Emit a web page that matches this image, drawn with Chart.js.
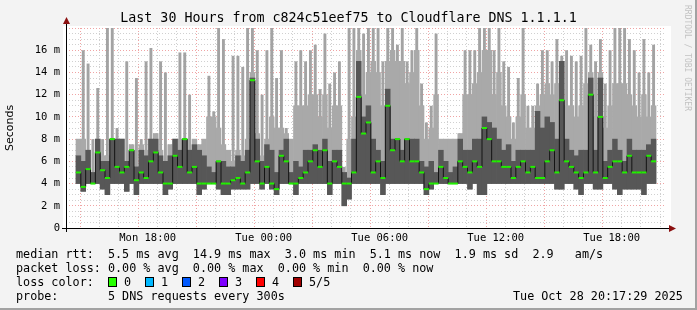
<!DOCTYPE html>
<html>
<head>
<meta charset="utf-8">
<script src="https://cdn.jsdelivr.net/npm/chart.js@4.4.0/dist/chart.umd.min.js"></script>
<style>
  html, body { margin: 0; padding: 0; }
  body { width: 697px; height: 310px; background: #f3f3f3; position: relative; overflow: hidden;
         font-family: "DejaVu Sans Mono", monospace; }
  #frame { position: absolute; left: 0; top: 0; width: 695px; height: 308px;
           border-right: 2px solid #a2a2a2; border-bottom: 2px solid #a2a2a2; }
  canvas { position: absolute; left: 0; top: 0; }
  .t { position: absolute; white-space: pre; color: #000; }
  #title { left: 0; top: 10px; width: 697px; text-align: center; font-size: 13.3px; line-height: 16px; }
  #legend .t { font-size: 11.75px; line-height: 14px; }
  .sq { position: absolute; width: 7px; height: 8px; border: 1px solid #000; }
  #mark { position: absolute; left: 683px; top: 5px; writing-mode: vertical-rl; font-size: 8px;
          color: #c2c2c2; white-space: pre; }
</style>
</head>
<body>
<div id="frame"></div>
<canvas id="chart" width="697" height="310"></canvas>
<div class="t" id="title">Last 30 Hours from c824c51eef75 to Cloudflare DNS 1.1.1.1</div>
<div id="mark">RRDTOOL / TOBI OETIKER</div>
<div id="legend">
  <div class="t" style="left:16px;top:247px">median rtt:  5.5 ms avg  14.9 ms max  3.0 ms min  5.1 ms now  1.9 ms sd  2.9   am/s</div>
  <div class="t" style="left:16px;top:261px">packet loss: 0.00 % avg  0.00 % max  0.00 % min  0.00 % now</div>
  <div class="t" style="left:16px;top:275px">loss color:</div>
  <div id="lossRow"></div>
  <div class="t" style="left:16px;top:289px">probe:       5 DNS requests every 300s</div>
  <div class="t" style="left:513px;top:289px">Tue Oct 28 20:17:29 2025</div>
</div>
<script>
// -------------------- Data (15 minute bins) --------------------
const startHour = 14 + 17 / 60 + 29 / 3600; // Mon 14:17:29
const stepHours = 0.25;

// lowest ping per bin (ms)
const lo = [
  4, 3.3, 4, 4, 4, 3.5, 3, 4, 4, 4, 3.3, 4, 3, 4, 4, 4, 4, 4, 3, 3.5,
  4, 4, 4, 4, 4, 3, 3.5, 4, 4, 3.5, 3, 3, 3.5, 3.5, 3.5, 3.5, 4, 4, 3.5, 4,
  3.5, 3, 4, 4, 4, 3, 4, 4, 4, 4, 4, 4, 3, 4, 4, 2, 2.6, 4, 4, 4,
  4, 4, 4, 3, 4, 4, 4, 4, 4, 4, 4, 4, 3, 3.5, 4, 4, 4, 4, 4, 4,
  4, 3.5, 4, 3, 3, 4, 4, 4, 4, 4, 4, 4, 4, 4, 4, 4, 4, 4, 4, 3.5,
  3.5, 4, 4, 3.5, 3, 4, 4, 3.5, 3.5, 4, 4, 3.5, 3, 3.5, 3.5, 3.5, 3.5, 3, 4, 4
];
// top of the dense (dark) smoke
const dk = [
  6.5, 6, 7, 5, 8, 6, 6, 8, 8, 8, 6, 7, 5.5, 7, 6.5, 8, 8, 6.5, 6, 6.5,
  8, 7, 8, 7, 7.5, 7, 6.5, 5.5, 5, 6, 6, 5.5, 5.5, 6.5, 6, 7, 13.5, 8, 6, 7.5,
  7, 5, 7, 8, 5, 6, 5.5, 7, 7, 7.5, 7, 8, 6, 7, 7, 5, 4.5, 8, 15, 10,
  11, 8, 7, 6, 12.5, 8, 8, 7, 8, 8, 8, 6, 5.5, 6, 5, 7, 6, 5, 5.5, 8,
  7, 7, 8, 8, 10, 9.5, 9, 8, 7, 7.5, 6, 7, 7, 7, 7, 10.5, 9, 10, 9.5, 8,
  15, 8, 7, 6.5, 7, 7, 13.5, 7, 13.5, 6, 7, 8, 7, 6, 8, 7, 7, 7, 7.5, 8
];
// top of the broad light smoke
const p4 = [
  8, 8, 7, 5, 8, 6.5, 6.5, 8, 8, 8, 6, 7.5, 5.5, 7.5, 7, 8, 8.5, 7, 6, 7.5,
  8, 8, 8, 7, 8, 7.5, 8, 10, 10, 9, 7.5, 7, 6, 7, 6.5, 8, 14, 8.5, 6.5, 8,
  10, 9, 9, 8.5, 8, 11, 11, 11, 12, 12, 10, 12, 9, 11, 11, 5, 8, 10, 16, 12,
  14, 15, 14, 11, 15, 16, 15, 15, 13, 14, 16, 11, 8, 9, 12, 8, 8, 8, 8, 8.5,
  12, 12, 13, 14, 16, 16, 12, 14, 11, 10, 8, 10, 12, 9, 9, 11, 12, 13, 12, 13,
  15, 11, 11, 10, 11, 13, 14, 10, 14, 9, 11, 13, 13, 13, 12, 11, 10, 12, 10, 11
];
// highest ping per bin
const hi = [
  8, 16, 14.8, 8, 12.6, 8, 18.5, 18.5, 9, 8, 15, 7.5, 13.5, 8, 15, 16.2, 8.5, 15, 14, 7.5,
  8, 15.8, 15.8, 12, 8, 7.5, 8, 13.7, 10.5, 18.5, 17, 7, 15.5, 15.5, 14.5, 18, 18.5, 16, 12, 16,
  18, 13.5, 16, 9, 8, 15, 16, 15, 16, 16.5, 12.5, 17.5, 13, 14, 15, 5.5, 18, 18, 18.5, 17.5,
  18.5, 18, 18.5, 15, 18.5, 18, 16.5, 18, 15, 16, 18.5, 13, 9.5, 11, 17.5, 8, 8, 8, 8, 8.5,
  16, 16, 16, 18, 18.5, 18.5, 16, 18.5, 15, 14.5, 9.5, 13.5, 18.5, 11, 11, 13, 16, 16, 15, 17,
  15.5, 16, 15.5, 15, 15.5, 18, 16.5, 15, 17, 13, 16, 18.5, 18, 18, 17, 16, 14, 17, 14, 16.5
];
// median rtt
const med = [
  5, 3.7, 5.3, 4, 6.8, 5.2, 4.5, 8, 5.5, 5, 5.5, 7, 4.3, 5, 4.5, 6, 6.8, 5, 4, 4,
  6.5, 5.5, 8, 5, 5.5, 4, 4, 4, 4, 6, 4, 4, 4.3, 4.5, 4, 5, 13.3, 6, 4, 5.5,
  4, 3.5, 6.5, 6, 4, 4, 4.5, 5, 6, 7, 5.5, 7, 4, 6, 5.5, 4, 4, 5, 11.8, 8.5,
  9.5, 5, 6, 4.5, 11, 7, 8, 6, 8, 6, 6, 5, 3.5, 4, 4, 5.5, 4.5, 4, 4, 6,
  5.5, 5, 6, 5.5, 9, 8, 6, 6, 5.5, 5.5, 4.5, 5.5, 6, 5, 5.5, 4.5, 4.5, 6, 7, 5,
  11.5, 6, 5.5, 5, 4.5, 5, 12, 5, 10, 4.5, 5.5, 6, 6, 5, 6.5, 5, 5, 5, 6.5, 6
];

// axis ticks
const xTickHours = [15, 16, 17, 18, 19, 20, 21, 22, 23, 24, 25, 26, 27, 28, 29, 30, 31, 32, 33, 34,
                    35, 36, 37, 38, 39, 40, 41, 42, 43, 44];
const xLabelHours = [18, 24, 30, 36, 42];
const xLabels = ["Mon 18:00", "Tue 00:00", "Tue 06:00", "Tue 12:00", "Tue 18:00"];
const yLabelValues = [0, 2, 4, 6, 8, 10, 12, 14, 16];
const yLabels = ["0", "2 m", "4 m", "6 m", "8 m", "10 m", "12 m", "14 m", "16 m"];

const lossNames = ["0", "1", "2", "3", "4", "5/5"];
const lossColors = ["#26ff00", "#00b8ff", "#0059ff", "#7e00ff", "#ff0000", "#a00000"];

// -------------------- Loss colour row --------------------
const row = document.getElementById("lossRow");
lossNames.forEach((name, i) => {
  const sq = document.createElement("div");
  sq.className = "sq";
  sq.style.left = (108 + i * 37) + "px";
  sq.style.top = "277px";
  sq.style.background = lossColors[i];
  row.appendChild(sq);
  const t = document.createElement("div");
  t.className = "t";
  t.style.left = (124 + i * 37) + "px";
  t.style.top = "275px";
  t.textContent = name;
  row.appendChild(t);
});

// -------------------- Chart --------------------
const times = med.map((_, i) => startHour + stepHours * (i + 0.5));
const yMinor = [];
for (let v = 0; v <= 18; v += 0.5) yMinor.push(v);

const frame = {
  id: "frame",
  beforeDraw(chart) {
    const { ctx, chartArea: a } = chart;
    ctx.save();
    ctx.fillStyle = "#fff";
    ctx.fillRect(a.left - 3, a.top - 2, a.right - a.left + 8, a.bottom - a.top + 2);
    ctx.restore();
  },
  afterDraw(chart) {
    const { ctx, chartArea: a } = chart;
    ctx.save();
    ctx.strokeStyle = "#000";
    ctx.lineWidth = 1;
    ctx.beginPath();
    ctx.moveTo(a.left + 0.5, a.top - 5);
    ctx.lineTo(a.left + 0.5, a.bottom + 4);
    ctx.moveTo(a.left - 4, a.bottom + 0.5);
    ctx.lineTo(a.right + 4, a.bottom + 0.5);
    ctx.stroke();
    ctx.fillStyle = "#8b1010";
    ctx.beginPath();
    ctx.moveTo(a.left + 0.5, a.top - 11);
    ctx.lineTo(a.left - 3, a.top - 4);
    ctx.lineTo(a.left + 4, a.top - 4);
    ctx.fill();
    ctx.beginPath();
    ctx.moveTo(a.right + 10, a.bottom + 0.5);
    ctx.lineTo(a.right + 3, a.bottom - 3);
    ctx.lineTo(a.right + 3, a.bottom + 4);
    ctx.fill();
    ctx.restore();
  }
};

const barBase = { grouped: false, categoryPercentage: 1, clip: 0 };

new Chart(document.getElementById("chart"), {
  type: "bar",
  data: {
    datasets: [
      {
        ...barBase,
        label: "smoke spikes",
        data: times.map((t, i) => ({ x: t, y: [lo[i], hi[i]] })),
        backgroundColor: "#a3a3a3",
        barPercentage: 0.6,
        order: 4
      },
      {
        ...barBase,
        label: "smoke",
        data: times.map((t, i) => ({ x: t, y: [lo[i], p4[i]] })),
        backgroundColor: "#a9a9a9",
        barPercentage: 1,
        order: 3
      },
      {
        ...barBase,
        label: "smoke dense",
        data: times.map((t, i) => ({ x: t, y: [lo[i], dk[i]] })),
        backgroundColor: "#575757",
        barPercentage: 1,
        order: 2
      },
      {
        type: "line",
        label: "median rtt",
        data: times.map((t, i) => ({ x: t, y: med[i] })),
        stepped: "middle",
        borderColor: "#141414",
        borderWidth: 1,
        pointStyle: "line",
        pointRadius: 2.5,
        pointBorderColor: "#22f000",
        pointBorderWidth: 2,
        order: 1, clip: 0
      }
    ]
  },
  options: {
    responsive: false,
    devicePixelRatio: 1,
    animation: false,
    layout: { padding: { left: 0, right: 31, top: 28, bottom: 0 } },
    plugins: { legend: { display: false }, tooltip: { enabled: false } },
    scales: {
      x: {
        type: "linear",
        min: startHour,
        max: startHour + 30,
        z: 1,
        afterBuildTicks: s => { s.ticks = xTickHours.map(v => ({ value: v })); },
        afterFit: s => { s.height = 82; },
        grid: { color: c => (c.tick && c.tick.value % 3 === 0) ? "#f0a4a4" : "#d0d0d0", drawTicks: false },
        border: { display: false, dash: [1, 2] },
        ticks: {
          padding: 4, maxRotation: 0, autoSkip: false, color: "#000",
          font: { family: "DejaVu Sans Mono", size: 10.5 },
          callback: v => { const k = xLabelHours.indexOf(v); return k < 0 ? "" : xLabels[k]; }
        }
      },
      y: {
        min: 0,
        max: 18,
        z: 1,
        afterBuildTicks: s => { s.ticks = yMinor.map(v => ({ value: v })); },
        afterFit: s => { s.width = 66; },
        grid: { color: c => (c.tick && c.tick.value % 2 === 0) ? "#f0a4a4" : "#d0d0d0", drawTicks: false },
        border: { display: false, dash: [1, 2] },
        ticks: {
          padding: 6, autoSkip: false, color: "#000",
          font: { family: "DejaVu Sans Mono", size: 10.5 },
          callback: v => { const k = yLabelValues.indexOf(v); return k < 0 ? "" : yLabels[k]; }
        },
        title: {
          display: true, text: "Seconds", color: "#000",
          font: { family: "DejaVu Sans", size: 11 },
          padding: { top: 4, bottom: 0 }
        }
      }
    }
  },
  plugins: [frame]
});
</script>
</body>
</html>
